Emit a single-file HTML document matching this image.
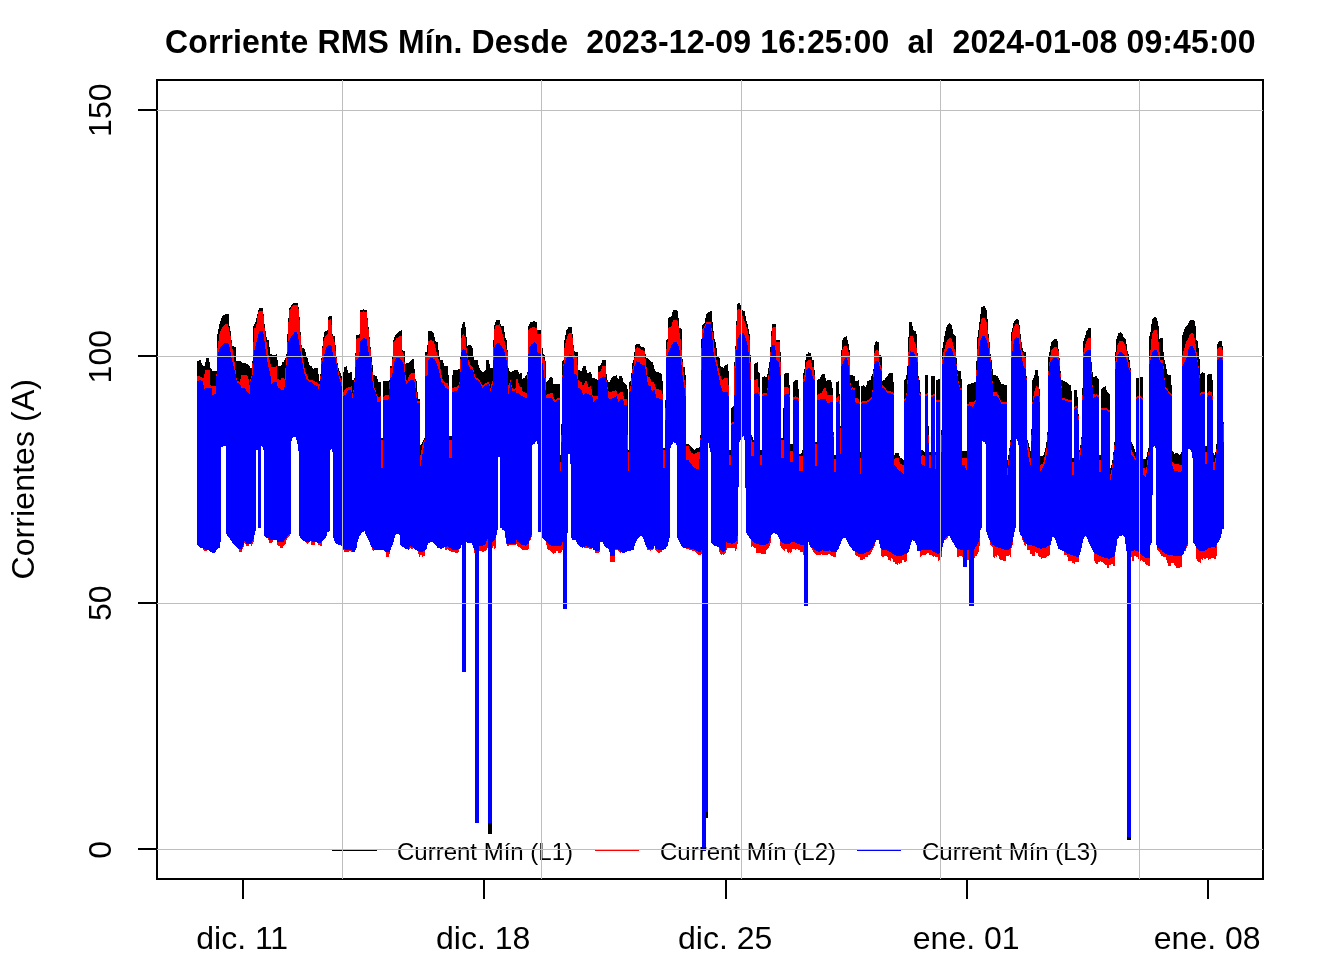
<!DOCTYPE html><html><head><meta charset="utf-8"><title>Corriente RMS Mín.</title>
<style>html,body{margin:0;padding:0;background:#fff}svg{display:block}text{font-family:"Liberation Sans",Arial,sans-serif;fill:#000}</style></head><body>
<svg width="1344" height="960" viewBox="0 0 1344 960">
<rect width="1344" height="960" fill="#fff"/>
<g id="series" shape-rendering="crispEdges">
<path fill="#000" d="M197 361h1v184h-1zM198 361h1v185h-1zM199 360h1v187h-1zM200 360h1v188h-1zM201 363h1v185h-1zM202 365h1v183h-1zM203 366h1v184h-1zM204 366h1v185h-1zM205 362h1v189h-1zM206 358h1v193h-1zM207 358h2v192h-2zM209 362h1v189h-1zM210 368h1v184h-1zM211 369h1v183h-1zM212 371h3v182h-3zM215 371h1v181h-1zM216 371h1v179h-1zM217 334h1v215h-1zM218 329h1v219h-1zM219 324h1v224h-1zM220 321h1v221h-1zM221 318h1v129h-1zM222 316h1v131h-1zM223 315h2v131h-2zM225 314h1v132h-1zM226 314h1v220h-1zM227 314h1v222h-1zM228 314h1v223h-1zM229 326h1v212h-1zM230 331h1v209h-1zM231 340h1v201h-1zM232 346h1v197h-1zM233 346h1v198h-1zM234 347h1v198h-1zM235 347h1v199h-1zM236 361h1v186h-1zM237 361h1v187h-1zM238 361h1v188h-1zM239 361h2v191h-2zM241 362h1v190h-1zM242 363h1v186h-1zM243 363h1v184h-1zM244 363h1v180h-1zM245 363h1v181h-1zM246 364h2v182h-2zM248 365h1v181h-1zM249 366h1v178h-1zM250 368h1v176h-1zM251 368h1v178h-1zM252 361h1v183h-1zM253 326h1v216h-1zM254 324h1v211h-1zM255 322h1v209h-1zM256 318h1v132h-1zM257 314h1v136h-1zM258 310h1v218h-1zM259 308h2v220h-2zM261 308h1v138h-1zM262 308h1v139h-1zM263 314h1v136h-1zM264 324h1v212h-1zM265 331h1v206h-1zM266 337h1v201h-1zM267 340h1v198h-1zM268 340h1v200h-1zM269 347h1v196h-1zM270 354h2v189h-2zM272 355h1v187h-1zM273 355h3v185h-3zM276 354h1v186h-1zM277 360h1v185h-1zM278 366h2v180h-2zM280 366h1v182h-1zM281 365h1v183h-1zM282 362h1v186h-1zM283 362h1v184h-1zM284 360h1v185h-1zM285 358h1v186h-1zM286 354h1v186h-1zM287 334h1v204h-1zM288 318h1v219h-1zM289 308h1v228h-1zM290 307h1v227h-1zM291 305h1v136h-1zM292 304h1v134h-1zM293 303h3v134h-3zM296 303h1v137h-1zM297 303h1v141h-1zM298 307h1v144h-1zM299 317h1v219h-1zM300 332h1v206h-1zM301 345h1v194h-1zM302 348h1v192h-1zM303 348h1v193h-1zM304 349h1v192h-1zM305 352h1v190h-1zM306 357h1v186h-1zM307 358h1v186h-1zM308 362h1v181h-1zM309 365h1v177h-1zM310 366h1v175h-1zM311 366h1v179h-1zM312 368h1v177h-1zM313 369h1v176h-1zM314 368h1v177h-1zM315 368h2v174h-2zM317 368h1v175h-1zM318 374h1v171h-1zM319 381h1v164h-1zM320 374h1v172h-1zM321 358h1v188h-1zM322 346h1v195h-1zM323 337h1v203h-1zM324 332h1v207h-1zM325 331h1v207h-1zM326 331h1v205h-1zM327 330h1v202h-1zM328 317h1v215h-1zM329 316h1v215h-1zM330 316h1v134h-1zM331 316h1v133h-1zM332 334h1v118h-1zM333 336h1v202h-1zM334 336h1v205h-1zM335 345h1v198h-1zM336 356h1v188h-1zM337 363h1v181h-1zM338 368h1v177h-1zM339 371h1v174h-1zM340 373h1v172h-1zM341 376h1v170h-1zM342 380h1v168h-1zM343 372h1v178h-1zM344 367h2v185h-2zM346 366h1v186h-1zM347 370h1v182h-1zM348 373h1v179h-1zM349 373h1v178h-1zM350 372h1v179h-1zM351 372h1v180h-1zM352 380h2v172h-2zM354 378h1v174h-1zM355 353h1v197h-1zM356 335h1v213h-1zM357 335h1v207h-1zM358 335h1v204h-1zM359 334h1v202h-1zM360 310h1v225h-1zM361 310h1v223h-1zM362 310h1v222h-1zM363 309h1v223h-1zM364 310h1v221h-1zM365 310h1v224h-1zM366 310h1v226h-1zM367 318h1v220h-1zM368 327h1v213h-1zM369 337h1v205h-1zM370 347h1v198h-1zM371 356h1v191h-1zM372 365h1v185h-1zM373 375h1v176h-1zM374 375h1v175h-1zM375 376h2v174h-2zM377 379h1v171h-1zM378 382h3v168h-3zM381 438h2v112h-2zM383 381h1v169h-1zM384 381h1v170h-1zM385 381h1v171h-1zM386 381h3v176h-3zM389 380h1v174h-1zM390 366h1v184h-1zM391 366h1v181h-1zM392 357h1v188h-1zM393 340h1v202h-1zM394 337h1v201h-1zM395 335h1v200h-1zM396 334h1v200h-1zM397 333h1v201h-1zM398 332h1v202h-1zM399 331h1v204h-1zM400 331h1v214h-1zM401 330h1v216h-1zM402 350h1v197h-1zM403 351h1v196h-1zM404 351h1v197h-1zM405 364h1v185h-1zM406 363h2v186h-2zM408 363h1v187h-1zM409 362h1v187h-1zM410 361h1v187h-1zM411 360h1v189h-1zM412 359h1v190h-1zM413 359h1v189h-1zM414 369h1v180h-1zM415 379h1v171h-1zM416 381h1v169h-1zM417 392h1v159h-1zM418 399h1v155h-1zM419 399h1v158h-1zM420 445h1v110h-1zM421 444h1v111h-1zM422 442h1v115h-1zM423 440h1v116h-1zM424 438h1v118h-1zM425 352h1v198h-1zM426 352h1v197h-1zM427 345h1v200h-1zM428 331h2v212h-2zM430 331h2v211h-2zM432 332h1v210h-1zM433 333h1v210h-1zM434 337h1v207h-1zM435 341h1v204h-1zM436 342h1v204h-1zM437 342h1v206h-1zM438 350h1v198h-1zM439 356h1v192h-1zM440 360h2v189h-2zM442 360h1v188h-1zM443 363h1v185h-1zM444 366h1v181h-1zM445 366h2v184h-2zM447 366h1v183h-1zM448 375h1v175h-1zM449 436h2v115h-2zM451 436h1v116h-1zM452 375h1v177h-1zM453 370h2v182h-2zM455 370h3v183h-3zM458 369h1v183h-1zM459 369h1v180h-1zM460 357h1v191h-1zM461 328h1v217h-1zM462 324h1v218h-1zM463 322h2v220h-2zM465 327h1v215h-1zM466 337h1v205h-1zM467 346h1v197h-1zM468 345h3v198h-3zM471 346h1v197h-1zM472 348h1v197h-1zM473 356h1v192h-1zM474 360h2v193h-2zM476 360h1v192h-1zM477 360h1v191h-1zM478 365h1v187h-1zM479 368h1v183h-1zM480 370h1v181h-1zM481 371h1v180h-1zM482 372h2v180h-2zM484 371h1v180h-1zM485 370h1v181h-1zM486 360h1v190h-1zM487 360h1v188h-1zM488 360h1v187h-1zM489 364h1v184h-1zM490 368h1v182h-1zM491 368h1v183h-1zM492 368h1v180h-1zM493 340h1v206h-1zM494 325h1v224h-1zM495 322h1v226h-1zM496 320h1v215h-1zM497 320h1v210h-1zM498 320h2v137h-2zM500 324h1v204h-1zM501 326h1v202h-1zM502 326h2v204h-2zM504 332h1v199h-1zM505 338h1v200h-1zM506 340h1v204h-1zM507 350h1v196h-1zM508 368h1v178h-1zM509 371h1v174h-1zM510 372h2v173h-2zM512 371h2v174h-2zM514 370h2v175h-2zM516 370h1v174h-1zM517 370h1v176h-1zM518 372h1v175h-1zM519 374h1v173h-1zM520 373h1v175h-1zM521 373h1v176h-1zM522 379h1v171h-1zM523 378h2v172h-2zM525 376h1v174h-1zM526 375h1v175h-1zM527 372h1v178h-1zM528 326h1v223h-1zM529 324h1v217h-1zM530 322h1v218h-1zM531 322h1v215h-1zM532 322h1v123h-1zM533 321h2v123h-2zM535 322h1v120h-1zM536 322h1v119h-1zM537 330h1v114h-1zM538 330h3v202h-3zM541 336h1v200h-1zM542 348h1v190h-1zM543 354h1v185h-1zM544 355h1v185h-1zM545 361h1v180h-1zM546 382h1v163h-1zM547 381h1v168h-1zM548 380h1v170h-1zM549 378h1v172h-1zM550 377h1v174h-1zM551 377h1v175h-1zM552 378h1v175h-1zM553 384h1v170h-1zM554 384h2v169h-2zM556 384h2v167h-2zM558 384h2v169h-2zM560 455h1v98h-1zM561 424h1v128h-1zM562 361h1v189h-1zM563 360h1v179h-1zM564 340h1v198h-1zM565 335h1v201h-1zM566 330h1v205h-1zM567 329h1v204h-1zM568 327h2v127h-2zM570 327h1v137h-1zM571 327h1v211h-1zM572 334h1v206h-1zM573 345h1v195h-1zM574 351h1v189h-1zM575 352h1v188h-1zM576 352h1v190h-1zM577 352h1v192h-1zM578 370h1v175h-1zM579 370h1v176h-1zM580 371h2v176h-2zM582 368h1v180h-1zM583 366h1v181h-1zM584 366h2v182h-2zM586 370h1v178h-1zM587 373h2v175h-2zM589 372h2v177h-2zM591 374h1v175h-1zM592 378h1v170h-1zM593 378h2v172h-2zM595 379h2v174h-2zM597 380h1v173h-1zM598 366h1v187h-1zM599 366h1v186h-1zM600 365h1v177h-1zM601 363h1v179h-1zM602 360h1v182h-1zM603 360h1v184h-1zM604 360h1v186h-1zM605 360h1v187h-1zM606 374h1v174h-1zM607 380h1v168h-1zM608 382h1v167h-1zM609 382h1v170h-1zM610 380h1v182h-1zM611 378h1v184h-1zM612 377h1v185h-1zM613 376h2v186h-2zM615 376h1v174h-1zM616 375h1v175h-1zM617 378h1v172h-1zM618 379h1v172h-1zM619 376h1v176h-1zM620 376h1v177h-1zM621 376h1v176h-1zM622 378h1v175h-1zM623 382h1v171h-1zM624 383h1v170h-1zM625 384h1v168h-1zM626 385h1v167h-1zM627 389h1v162h-1zM628 450h1v101h-1zM629 382h1v169h-1zM630 381h1v170h-1zM631 373h1v177h-1zM632 363h1v187h-1zM633 360h1v190h-1zM634 352h1v194h-1zM635 345h1v198h-1zM636 344h1v197h-1zM637 344h1v195h-1zM638 344h1v194h-1zM639 344h1v193h-1zM640 346h1v190h-1zM641 347h1v189h-1zM642 347h1v190h-1zM643 347h1v192h-1zM644 348h1v194h-1zM645 354h1v191h-1zM646 358h1v189h-1zM647 358h1v192h-1zM648 359h1v191h-1zM649 360h1v190h-1zM650 361h1v190h-1zM651 362h2v188h-2zM653 365h1v184h-1zM654 369h1v177h-1zM655 371h1v179h-1zM656 372h1v179h-1zM657 372h1v180h-1zM658 372h1v181h-1zM659 373h1v180h-1zM660 373h1v179h-1zM661 374h1v178h-1zM662 381h1v169h-1zM663 448h1v102h-1zM664 448h1v101h-1zM665 400h1v149h-1zM666 340h1v207h-1zM667 339h1v207h-1zM668 318h1v224h-1zM669 317h1v221h-1zM670 317h1v131h-1zM671 316h1v129h-1zM672 312h1v132h-1zM673 310h1v132h-1zM674 310h2v133h-2zM676 310h1v135h-1zM677 311h1v227h-1zM678 318h1v222h-1zM679 328h1v214h-1zM680 328h1v216h-1zM681 329h1v217h-1zM682 359h1v188h-1zM683 367h2v181h-2zM685 375h1v173h-1zM686 444h3v105h-3zM689 445h1v105h-1zM690 446h1v104h-1zM691 447h1v103h-1zM692 448h1v103h-1zM693 449h1v102h-1zM694 450h1v101h-1zM695 449h1v103h-1zM696 448h1v105h-1zM697 448h1v106h-1zM698 448h1v107h-1zM699 447h1v108h-1zM700 435h1v120h-1zM701 339h1v215h-1zM702 325h1v226h-1zM703 324h1v227h-1zM704 323h1v228h-1zM705 318h1v233h-1zM706 314h1v237h-1zM707 313h1v238h-1zM708 312h1v131h-1zM709 312h1v136h-1zM710 311h1v141h-1zM711 311h1v232h-1zM712 322h1v222h-1zM713 331h1v214h-1zM714 339h1v207h-1zM715 342h1v204h-1zM716 348h1v198h-1zM717 356h1v191h-1zM718 357h1v190h-1zM719 358h1v194h-1zM720 366h1v188h-1zM721 367h1v188h-1zM722 367h1v187h-1zM723 368h1v187h-1zM724 366h1v188h-1zM725 365h1v188h-1zM726 365h1v185h-1zM727 364h1v184h-1zM728 371h1v177h-1zM729 450h2v98h-2zM731 408h1v140h-1zM732 407h1v141h-1zM733 406h1v142h-1zM734 362h1v186h-1zM735 346h1v205h-1zM736 321h1v228h-1zM737 304h1v240h-1zM738 303h1v184h-1zM739 303h1v139h-1zM740 305h1v135h-1zM741 310h1v128h-1zM742 310h1v127h-1zM743 311h1v125h-1zM744 311h1v129h-1zM745 316h1v172h-1zM746 321h1v212h-1zM747 324h1v211h-1zM748 329h1v207h-1zM749 334h1v204h-1zM750 355h1v184h-1zM751 435h1v112h-1zM752 437h1v109h-1zM753 440h1v107h-1zM754 364h1v184h-1zM755 363h1v185h-1zM756 363h1v190h-1zM757 362h1v191h-1zM758 372h1v181h-1zM759 373h1v180h-1zM760 450h1v103h-1zM761 450h1v104h-1zM762 377h2v177h-2zM764 376h1v178h-1zM765 377h1v177h-1zM766 377h1v173h-1zM767 374h1v175h-1zM768 368h1v180h-1zM769 362h1v184h-1zM770 347h1v196h-1zM771 331h1v204h-1zM772 324h1v210h-1zM773 324h2v209h-2zM775 324h1v210h-1zM776 340h1v194h-1zM777 340h1v195h-1zM778 340h1v197h-1zM779 340h1v199h-1zM780 352h1v194h-1zM781 438h1v110h-1zM782 438h1v111h-1zM783 408h1v142h-1zM784 374h1v177h-1zM785 373h2v176h-2zM787 373h1v179h-1zM788 373h1v180h-1zM789 385h1v167h-1zM790 444h1v109h-1zM791 444h1v108h-1zM792 444h1v105h-1zM793 382h1v167h-1zM794 381h1v168h-1zM795 380h1v170h-1zM796 380h2v169h-2zM798 389h1v161h-1zM799 454h1v96h-1zM800 454h1v98h-1zM801 453h1v99h-1zM802 450h1v102h-1zM803 373h1v182h-1zM804 369h1v175h-1zM805 360h1v184h-1zM806 354h2v189h-2zM808 352h1v190h-1zM809 353h1v192h-1zM810 353h1v194h-1zM811 356h1v192h-1zM812 360h1v190h-1zM813 360h1v192h-1zM814 370h1v183h-1zM815 442h1v112h-1zM816 442h1v113h-1zM817 380h1v175h-1zM818 379h2v176h-2zM820 377h1v178h-1zM821 375h1v179h-1zM822 374h3v181h-3zM825 378h1v177h-1zM826 381h1v174h-1zM827 380h1v175h-1zM828 380h2v174h-2zM830 380h1v175h-1zM831 382h1v174h-1zM832 388h1v168h-1zM833 432h1v125h-1zM834 455h2v102h-2zM836 382h1v170h-1zM837 382h1v168h-1zM838 381h1v168h-1zM839 394h1v152h-1zM840 426h1v118h-1zM841 350h1v191h-1zM842 340h1v199h-1zM843 338h1v200h-1zM844 337h2v201h-2zM846 336h1v204h-1zM847 340h1v202h-1zM848 344h1v200h-1zM849 350h1v196h-1zM850 375h1v172h-1zM851 375h1v173h-1zM852 375h1v175h-1zM853 376h2v175h-2zM855 381h1v174h-1zM856 381h2v175h-2zM858 380h1v177h-1zM859 386h1v171h-1zM860 452h1v108h-1zM861 386h2v174h-2zM863 385h1v174h-1zM864 386h1v173h-1zM865 387h1v170h-1zM866 385h1v172h-1zM867 381h1v176h-1zM868 381h1v174h-1zM869 380h1v175h-1zM870 380h1v174h-1zM871 376h1v176h-1zM872 374h1v176h-1zM873 369h1v179h-1zM874 345h1v201h-1zM875 342h1v200h-1zM876 341h1v199h-1zM877 342h2v198h-2zM879 355h1v189h-1zM880 355h1v193h-1zM881 356h1v200h-1zM882 381h1v176h-1zM883 380h1v177h-1zM884 380h1v176h-1zM885 378h1v178h-1zM886 377h1v179h-1zM887 376h1v181h-1zM888 374h1v186h-1zM889 373h1v187h-1zM890 373h1v188h-1zM891 373h1v185h-1zM892 373h1v186h-1zM893 382h1v180h-1zM894 455h1v107h-1zM895 453h2v111h-2zM897 453h1v112h-1zM898 453h1v110h-1zM899 456h1v108h-1zM900 458h2v105h-2zM902 459h1v101h-1zM903 460h1v100h-1zM904 380h1v182h-1zM905 379h1v183h-1zM906 375h1v186h-1zM907 366h1v187h-1zM908 337h1v215h-1zM909 322h1v227h-1zM910 322h1v223h-1zM911 322h1v220h-1zM912 326h1v214h-1zM913 330h1v211h-1zM914 331h1v210h-1zM915 331h1v212h-1zM916 334h1v211h-1zM917 353h1v198h-1zM918 376h1v175h-1zM919 380h1v171h-1zM920 392h1v165h-1zM921 450h1v106h-1zM922 450h1v105h-1zM923 451h1v104h-1zM924 452h1v103h-1zM925 375h1v180h-1zM926 375h1v179h-1zM927 375h1v178h-1zM928 426h1v127h-1zM929 452h2v103h-2zM931 376h1v179h-1zM932 376h1v180h-1zM933 376h1v181h-1zM934 376h1v180h-1zM935 452h1v105h-1zM936 380h2v177h-2zM938 379h1v182h-1zM939 379h1v181h-1zM940 430h1v130h-1zM941 430h1v127h-1zM942 348h1v199h-1zM943 342h1v201h-1zM944 336h1v204h-1zM945 331h1v209h-1zM946 327h1v212h-1zM947 325h1v213h-1zM948 324h1v212h-1zM949 323h1v213h-1zM950 324h1v214h-1zM951 325h1v215h-1zM952 329h1v213h-1zM953 334h1v209h-1zM954 335h1v210h-1zM955 336h1v211h-1zM956 358h1v190h-1zM957 370h1v187h-1zM958 371h1v186h-1zM959 371h2v185h-2zM961 379h1v177h-1zM962 451h1v106h-1zM963 451h4v109h-4zM967 385h1v175h-1zM968 384h2v176h-2zM970 384h1v173h-1zM971 383h2v174h-2zM973 383h1v175h-1zM974 382h1v176h-1zM975 382h1v174h-1zM976 361h1v195h-1zM977 337h1v217h-1zM978 330h1v222h-1zM979 322h1v224h-1zM980 314h1v216h-1zM981 307h1v221h-1zM982 307h1v134h-1zM983 306h2v136h-2zM985 308h1v136h-1zM986 310h1v222h-1zM987 319h1v216h-1zM988 334h1v204h-1zM989 342h1v198h-1zM990 354h1v191h-1zM991 360h1v186h-1zM992 369h1v178h-1zM993 375h1v182h-1zM994 375h1v183h-1zM995 375h1v181h-1zM996 376h1v181h-1zM997 376h1v179h-1zM998 378h1v178h-1zM999 380h1v179h-1zM1000 382h1v178h-1zM1001 384h2v176h-2zM1003 384h1v177h-1zM1004 385h2v176h-2zM1006 385h1v171h-1zM1007 460h1v96h-1zM1008 455h1v101h-1zM1009 448h1v107h-1zM1010 440h1v117h-1zM1011 332h1v216h-1zM1012 328h1v217h-1zM1013 323h1v214h-1zM1014 321h1v211h-1zM1015 320h1v208h-1zM1016 319h1v120h-1zM1017 319h1v122h-1zM1018 320h1v125h-1zM1019 325h1v207h-1zM1020 334h1v201h-1zM1021 342h1v194h-1zM1022 348h1v192h-1zM1023 351h1v191h-1zM1024 352h1v193h-1zM1025 352h1v194h-1zM1026 376h1v168h-1zM1027 440h1v110h-1zM1028 443h1v107h-1zM1029 447h1v103h-1zM1030 451h1v103h-1zM1031 429h1v125h-1zM1032 380h1v176h-1zM1033 378h1v178h-1zM1034 375h1v181h-1zM1035 370h1v182h-1zM1036 370h2v183h-2zM1038 376h1v180h-1zM1039 389h1v168h-1zM1040 456h1v101h-1zM1041 456h1v103h-1zM1042 456h1v102h-1zM1043 455h1v103h-1zM1044 452h1v106h-1zM1045 448h1v110h-1zM1046 442h1v115h-1zM1047 432h1v124h-1zM1048 356h1v200h-1zM1049 352h1v203h-1zM1050 346h1v199h-1zM1051 342h1v199h-1zM1052 341h1v196h-1zM1053 340h1v197h-1zM1054 339h1v199h-1zM1055 339h1v201h-1zM1056 339h1v204h-1zM1057 341h1v205h-1zM1058 349h1v200h-1zM1059 358h1v191h-1zM1060 371h1v179h-1zM1061 380h1v170h-1zM1062 380h1v171h-1zM1063 381h1v170h-1zM1064 381h1v174h-1zM1065 382h2v173h-2zM1067 383h1v174h-1zM1068 384h1v177h-1zM1069 385h2v176h-2zM1071 391h1v170h-1zM1072 458h2v105h-2zM1074 390h1v174h-1zM1075 390h2v172h-2zM1077 397h1v165h-1zM1078 414h1v148h-1zM1079 450h1v105h-1zM1080 445h1v107h-1zM1081 437h1v111h-1zM1082 388h1v155h-1zM1083 341h1v198h-1zM1084 338h1v199h-1zM1085 335h1v201h-1zM1086 331h1v206h-1zM1087 330h1v209h-1zM1088 328h1v214h-1zM1089 328h1v216h-1zM1090 328h1v218h-1zM1091 362h1v186h-1zM1092 372h1v178h-1zM1093 377h1v175h-1zM1094 377h1v184h-1zM1095 376h1v187h-1zM1096 376h1v188h-1zM1097 378h1v186h-1zM1098 379h1v183h-1zM1099 455h1v107h-1zM1100 455h1v106h-1zM1101 389h1v173h-1zM1102 388h1v174h-1zM1103 387h1v176h-1zM1104 387h1v177h-1zM1105 386h1v179h-1zM1106 390h1v175h-1zM1107 392h1v176h-1zM1108 393h1v175h-1zM1109 394h1v171h-1zM1110 468h1v97h-1zM1111 465h1v99h-1zM1112 460h1v104h-1zM1113 452h1v114h-1zM1114 442h1v124h-1zM1115 352h1v200h-1zM1116 339h1v207h-1zM1117 336h1v203h-1zM1118 333h1v205h-1zM1119 333h1v203h-1zM1120 332h1v204h-1zM1121 333h1v203h-1zM1122 334h1v201h-1zM1123 337h1v199h-1zM1124 338h1v199h-1zM1125 339h1v205h-1zM1126 344h1v207h-1zM1127 351h1v201h-1zM1128 354h1v198h-1zM1129 360h1v192h-1zM1130 368h1v183h-1zM1131 442h1v115h-1zM1132 444h1v117h-1zM1133 446h1v115h-1zM1134 449h1v107h-1zM1135 452h1v104h-1zM1136 378h2v179h-2zM1138 378h1v181h-1zM1139 378h1v182h-1zM1140 377h1v184h-1zM1141 377h1v183h-1zM1142 377h1v184h-1zM1143 459h2v103h-2zM1145 459h1v105h-1zM1146 457h1v108h-1zM1147 452h1v113h-1zM1148 448h1v118h-1zM1149 336h1v230h-1zM1150 332h1v213h-1zM1151 324h1v219h-1zM1152 319h1v176h-1zM1153 318h1v129h-1zM1154 317h1v129h-1zM1155 317h1v131h-1zM1156 318h1v227h-1zM1157 321h1v229h-1zM1158 326h1v225h-1zM1159 339h1v213h-1zM1160 338h1v216h-1zM1161 338h2v218h-2zM1163 352h1v205h-1zM1164 360h1v197h-1zM1165 364h1v193h-1zM1166 369h1v191h-1zM1167 374h1v189h-1zM1168 375h3v191h-3zM1171 385h1v178h-1zM1172 451h1v112h-1zM1173 452h1v111h-1zM1174 454h1v111h-1zM1175 453h1v113h-1zM1176 453h2v115h-2zM1178 454h1v114h-1zM1179 455h1v113h-1zM1180 454h1v113h-1zM1181 452h1v115h-1zM1182 335h1v220h-1zM1183 332h1v222h-1zM1184 329h1v222h-1zM1185 327h1v224h-1zM1186 326h1v222h-1zM1187 325h1v221h-1zM1188 323h1v126h-1zM1189 321h1v128h-1zM1190 320h1v130h-1zM1191 320h1v132h-1zM1192 320h1v138h-1zM1193 320h1v223h-1zM1194 321h1v223h-1zM1195 326h1v220h-1zM1196 340h1v219h-1zM1197 341h1v220h-1zM1198 348h1v214h-1zM1199 359h1v203h-1zM1200 374h1v189h-1zM1201 373h1v186h-1zM1202 372h1v188h-1zM1203 373h1v185h-1zM1204 373h1v186h-1zM1205 446h1v113h-1zM1206 446h1v112h-1zM1207 375h1v183h-1zM1208 374h1v186h-1zM1209 374h2v185h-2zM1211 374h1v184h-1zM1212 380h1v178h-1zM1213 453h1v105h-1zM1214 455h1v104h-1zM1215 452h1v107h-1zM1216 444h1v112h-1zM1217 344h1v199h-1zM1218 342h1v200h-1zM1219 341h1v199h-1zM1220 341h1v197h-1zM1221 341h1v193h-1zM1222 346h1v183h-1zM1223 422h1v107h-1z"/>
<path fill="#f00" d="M197 376h1v169h-1zM198 376h1v170h-1zM199 376h1v171h-1zM200 377h2v171h-2zM202 378h1v170h-1zM203 378h1v172h-1zM204 374h1v177h-1zM205 370h2v181h-2zM207 370h2v180h-2zM209 370h1v181h-1zM210 385h1v167h-1zM211 386h1v166h-1zM212 386h3v167h-3zM215 386h1v166h-1zM216 374h1v176h-1zM217 348h1v201h-1zM218 341h1v207h-1zM219 334h1v214h-1zM220 331h1v211h-1zM221 329h1v118h-1zM222 327h1v120h-1zM223 326h1v120h-1zM224 325h1v121h-1zM225 324h1v122h-1zM226 324h1v210h-1zM227 324h1v212h-1zM228 327h1v210h-1zM229 332h1v206h-1zM230 336h1v204h-1zM231 343h1v198h-1zM232 349h1v194h-1zM233 355h1v189h-1zM234 362h1v183h-1zM235 370h1v176h-1zM236 378h1v169h-1zM237 381h1v167h-1zM238 381h1v168h-1zM239 382h1v170h-1zM240 379h1v173h-1zM241 375h1v177h-1zM242 375h1v174h-1zM243 375h1v172h-1zM244 375h1v168h-1zM245 375h1v169h-1zM246 375h1v171h-1zM247 376h1v170h-1zM248 379h1v167h-1zM249 385h1v159h-1zM250 379h1v165h-1zM251 376h1v170h-1zM252 363h1v181h-1zM253 342h1v200h-1zM254 328h1v207h-1zM255 328h1v203h-1zM256 324h1v126h-1zM257 316h1v134h-1zM258 312h1v216h-1zM259 311h2v217h-2zM261 311h1v135h-1zM262 311h1v136h-1zM263 316h1v134h-1zM264 328h1v208h-1zM265 337h1v200h-1zM266 342h1v196h-1zM267 349h1v189h-1zM268 355h1v185h-1zM269 360h1v183h-1zM270 364h1v179h-1zM271 367h1v176h-1zM272 367h1v175h-1zM273 367h3v173h-3zM276 366h1v174h-1zM277 379h1v166h-1zM278 379h1v167h-1zM279 380h1v166h-1zM280 380h1v168h-1zM281 378h2v170h-2zM283 378h1v168h-1zM284 379h1v166h-1zM285 368h1v176h-1zM286 356h1v184h-1zM287 342h1v196h-1zM288 322h1v215h-1zM289 310h1v226h-1zM290 309h1v225h-1zM291 307h1v134h-1zM292 306h1v132h-1zM293 305h3v132h-3zM296 305h1v135h-1zM297 305h1v139h-1zM298 309h1v142h-1zM299 320h1v216h-1zM300 335h1v203h-1zM301 347h1v192h-1zM302 355h1v185h-1zM303 362h1v179h-1zM304 368h1v173h-1zM305 372h1v170h-1zM306 374h1v169h-1zM307 376h1v168h-1zM308 379h1v164h-1zM309 380h1v162h-1zM310 380h1v161h-1zM311 380h2v165h-2zM313 381h2v164h-2zM315 382h2v160h-2zM317 383h1v160h-1zM318 384h2v161h-2zM320 376h1v170h-1zM321 360h1v186h-1zM322 348h1v193h-1zM323 341h1v199h-1zM324 338h1v201h-1zM325 336h1v202h-1zM326 335h1v201h-1zM327 334h1v198h-1zM328 320h1v212h-1zM329 320h1v211h-1zM330 319h1v131h-1zM331 325h1v124h-1zM332 336h1v116h-1zM333 339h1v199h-1zM334 342h1v199h-1zM335 351h1v192h-1zM336 358h1v186h-1zM337 365h1v179h-1zM338 371h1v174h-1zM339 376h1v169h-1zM340 378h1v167h-1zM341 380h1v166h-1zM342 388h1v160h-1zM343 392h1v158h-1zM344 390h1v162h-1zM345 389h1v163h-1zM346 388h2v164h-2zM348 387h1v165h-1zM349 387h2v164h-2zM351 386h1v166h-1zM352 393h1v159h-1zM353 390h1v162h-1zM354 380h1v172h-1zM355 355h1v195h-1zM356 339h1v209h-1zM357 338h1v204h-1zM358 338h1v201h-1zM359 338h1v198h-1zM360 312h1v223h-1zM361 312h1v221h-1zM362 312h1v220h-1zM363 311h1v221h-1zM364 312h1v219h-1zM365 312h1v222h-1zM366 312h1v224h-1zM367 320h1v218h-1zM368 329h1v211h-1zM369 339h1v203h-1zM370 349h1v196h-1zM371 362h1v185h-1zM372 372h1v178h-1zM373 381h1v170h-1zM374 388h1v162h-1zM375 390h1v160h-1zM376 394h1v156h-1zM377 396h1v154h-1zM378 397h2v153h-2zM380 396h1v154h-1zM381 440h2v110h-2zM383 397h1v153h-1zM384 396h1v155h-1zM385 395h1v157h-1zM386 395h3v162h-3zM389 382h1v172h-1zM390 368h1v182h-1zM391 368h1v179h-1zM392 359h1v186h-1zM393 342h1v200h-1zM394 341h1v197h-1zM395 340h1v195h-1zM396 338h2v196h-2zM398 337h1v197h-1zM399 336h1v199h-1zM400 336h1v209h-1zM401 336h1v210h-1zM402 352h1v195h-1zM403 354h1v193h-1zM404 362h1v186h-1zM405 375h1v174h-1zM406 380h1v169h-1zM407 381h1v168h-1zM408 377h1v173h-1zM409 375h1v174h-1zM410 374h1v174h-1zM411 373h2v176h-2zM413 373h1v175h-1zM414 373h1v176h-1zM415 381h1v169h-1zM416 392h1v158h-1zM417 401h1v150h-1zM418 401h1v153h-1zM419 401h1v156h-1zM420 455h1v100h-1zM421 450h1v105h-1zM422 445h1v112h-1zM423 442h1v114h-1zM424 440h1v116h-1zM425 355h1v195h-1zM426 355h1v194h-1zM427 354h1v191h-1zM428 341h2v202h-2zM430 340h2v202h-2zM432 341h1v201h-1zM433 341h1v202h-1zM434 344h1v200h-1zM435 348h1v197h-1zM436 352h1v194h-1zM437 355h1v193h-1zM438 359h1v189h-1zM439 362h1v186h-1zM440 369h1v180h-1zM441 375h1v174h-1zM442 379h1v169h-1zM443 381h1v167h-1zM444 382h1v165h-1zM445 383h2v167h-2zM447 383h1v166h-1zM448 386h1v164h-1zM449 440h2v111h-2zM451 440h1v112h-1zM452 388h2v164h-2zM454 387h1v165h-1zM455 387h2v166h-2zM457 386h1v167h-1zM458 385h1v167h-1zM459 382h1v167h-1zM460 359h1v189h-1zM461 338h1v207h-1zM462 335h1v207h-1zM463 334h1v208h-1zM464 336h1v206h-1zM465 338h1v204h-1zM466 348h1v194h-1zM467 355h1v188h-1zM468 360h1v183h-1zM469 362h1v181h-1zM470 365h1v178h-1zM471 366h1v177h-1zM472 367h1v178h-1zM473 370h1v178h-1zM474 374h1v179h-1zM475 377h1v176h-1zM476 378h1v174h-1zM477 378h1v173h-1zM478 379h1v173h-1zM479 380h1v171h-1zM480 382h1v169h-1zM481 384h1v167h-1zM482 385h2v167h-2zM484 384h1v167h-1zM485 383h1v168h-1zM486 383h1v167h-1zM487 382h1v166h-1zM488 382h1v165h-1zM489 384h1v164h-1zM490 388h1v162h-1zM491 384h1v167h-1zM492 381h1v167h-1zM493 347h1v199h-1zM494 329h1v220h-1zM495 326h1v222h-1zM496 325h1v210h-1zM497 325h1v205h-1zM498 325h1v132h-1zM499 324h1v133h-1zM500 327h1v201h-1zM501 330h1v198h-1zM502 334h1v196h-1zM503 337h1v193h-1zM504 341h1v190h-1zM505 345h1v193h-1zM506 349h1v195h-1zM507 352h1v194h-1zM508 385h1v161h-1zM509 383h1v162h-1zM510 380h1v165h-1zM511 385h1v160h-1zM512 388h1v157h-1zM513 389h2v156h-2zM515 388h1v157h-1zM516 379h1v165h-1zM517 379h1v167h-1zM518 383h1v164h-1zM519 386h1v161h-1zM520 387h1v161h-1zM521 387h1v162h-1zM522 391h1v159h-1zM523 392h2v158h-2zM525 393h2v157h-2zM527 374h1v176h-1zM528 330h1v219h-1zM529 329h1v212h-1zM530 328h1v212h-1zM531 328h1v209h-1zM532 327h1v118h-1zM533 327h2v117h-2zM535 328h1v114h-1zM536 328h1v113h-1zM537 334h1v110h-1zM538 334h3v198h-3zM541 346h1v190h-1zM542 355h1v183h-1zM543 358h1v181h-1zM544 360h1v180h-1zM545 378h1v163h-1zM546 395h1v150h-1zM547 394h1v155h-1zM548 394h2v156h-2zM550 393h1v158h-1zM551 393h1v159h-1zM552 393h1v160h-1zM553 397h1v157h-1zM554 399h1v154h-1zM555 400h1v153h-1zM556 399h1v152h-1zM557 398h1v153h-1zM558 398h2v155h-2zM560 462h1v91h-1zM561 435h1v117h-1zM562 375h1v175h-1zM563 364h1v175h-1zM564 348h1v190h-1zM565 343h1v193h-1zM566 339h1v196h-1zM567 336h1v197h-1zM568 334h1v120h-1zM569 333h1v121h-1zM570 333h1v131h-1zM571 333h1v205h-1zM572 338h1v202h-1zM573 348h1v192h-1zM574 355h1v185h-1zM575 356h1v184h-1zM576 357h1v185h-1zM577 365h1v179h-1zM578 380h1v165h-1zM579 381h1v165h-1zM580 382h2v165h-2zM582 385h1v163h-1zM583 385h1v162h-1zM584 383h1v165h-1zM585 381h2v167h-2zM587 384h1v164h-1zM588 387h1v161h-1zM589 387h1v162h-1zM590 386h1v163h-1zM591 389h1v160h-1zM592 395h1v153h-1zM593 396h2v154h-2zM595 396h3v157h-3zM598 372h1v181h-1zM599 372h1v180h-1zM600 371h1v171h-1zM601 369h1v173h-1zM602 366h1v176h-1zM603 366h1v178h-1zM604 366h1v180h-1zM605 366h1v181h-1zM606 380h1v168h-1zM607 387h1v161h-1zM608 391h1v158h-1zM609 392h1v160h-1zM610 392h2v170h-2zM612 391h3v171h-3zM615 390h1v160h-1zM616 391h1v159h-1zM617 394h1v156h-1zM618 394h1v157h-1zM619 393h1v159h-1zM620 392h1v161h-1zM621 392h1v160h-1zM622 392h1v161h-1zM623 396h1v157h-1zM624 399h1v154h-1zM625 399h2v153h-2zM627 435h1v116h-1zM628 452h1v99h-1zM629 389h1v162h-1zM630 386h1v165h-1zM631 378h1v172h-1zM632 369h1v181h-1zM633 366h1v184h-1zM634 358h1v188h-1zM635 349h1v194h-1zM636 348h1v193h-1zM637 347h1v192h-1zM638 348h1v190h-1zM639 348h1v189h-1zM640 349h1v187h-1zM641 350h1v186h-1zM642 350h1v187h-1zM643 351h1v188h-1zM644 351h1v191h-1zM645 359h1v186h-1zM646 367h1v180h-1zM647 376h1v174h-1zM648 377h2v173h-2zM650 379h1v172h-1zM651 382h2v168h-2zM653 382h1v167h-1zM654 384h1v162h-1zM655 387h1v163h-1zM656 389h1v162h-1zM657 389h1v163h-1zM658 389h1v164h-1zM659 390h1v163h-1zM660 390h1v162h-1zM661 391h1v161h-1zM662 394h1v156h-1zM663 450h1v100h-1zM664 450h1v99h-1zM665 408h1v141h-1zM666 349h1v198h-1zM667 342h1v204h-1zM668 328h1v214h-1zM669 327h1v211h-1zM670 327h1v121h-1zM671 326h1v119h-1zM672 322h1v122h-1zM673 320h1v122h-1zM674 320h2v123h-2zM676 320h1v125h-1zM677 321h1v217h-1zM678 326h1v214h-1zM679 333h1v209h-1zM680 339h1v205h-1zM681 350h1v196h-1zM682 362h1v185h-1zM683 372h1v176h-1zM684 380h1v168h-1zM685 385h1v163h-1zM686 446h3v103h-3zM689 449h1v101h-1zM690 451h1v99h-1zM691 453h1v97h-1zM692 453h1v98h-1zM693 454h2v97h-2zM695 453h1v99h-1zM696 453h1v100h-1zM697 452h1v102h-1zM698 452h2v103h-2zM700 438h1v117h-1zM701 348h1v206h-1zM702 329h1v222h-1zM703 328h1v223h-1zM704 326h1v225h-1zM705 324h1v227h-1zM706 322h2v229h-2zM708 322h1v121h-1zM709 322h1v126h-1zM710 322h1v130h-1zM711 328h1v215h-1zM712 332h1v212h-1zM713 340h1v205h-1zM714 348h1v198h-1zM715 355h1v191h-1zM716 360h1v186h-1zM717 364h1v183h-1zM718 368h1v179h-1zM719 373h1v179h-1zM720 376h1v178h-1zM721 379h1v176h-1zM722 380h1v174h-1zM723 379h1v176h-1zM724 378h1v176h-1zM725 378h1v175h-1zM726 378h1v172h-1zM727 378h1v170h-1zM728 385h1v163h-1zM729 455h2v93h-2zM731 423h1v125h-1zM732 422h2v126h-2zM734 366h1v182h-1zM735 349h1v202h-1zM736 325h1v224h-1zM737 310h1v234h-1zM738 309h1v178h-1zM739 309h1v133h-1zM740 310h1v130h-1zM741 314h1v124h-1zM742 316h1v121h-1zM743 319h1v117h-1zM744 321h1v119h-1zM745 324h1v164h-1zM746 327h1v206h-1zM747 331h1v204h-1zM748 335h1v201h-1zM749 340h1v198h-1zM750 362h1v177h-1zM751 440h1v107h-1zM752 442h1v104h-1zM753 442h1v105h-1zM754 380h2v168h-2zM756 379h2v174h-2zM758 387h1v166h-1zM759 392h1v161h-1zM760 455h1v98h-1zM761 455h1v99h-1zM762 394h1v160h-1zM763 393h3v161h-3zM766 393h1v157h-1zM767 388h1v161h-1zM768 375h1v173h-1zM769 368h1v178h-1zM770 352h1v191h-1zM771 336h1v199h-1zM772 328h1v206h-1zM773 327h2v206h-2zM775 327h1v207h-1zM776 342h1v192h-1zM777 342h1v193h-1zM778 342h1v195h-1zM779 342h1v197h-1zM780 362h1v184h-1zM781 440h1v108h-1zM782 440h1v109h-1zM783 440h1v110h-1zM784 387h1v164h-1zM785 387h2v162h-2zM787 387h1v165h-1zM788 388h1v165h-1zM789 395h1v157h-1zM790 451h1v102h-1zM791 451h1v101h-1zM792 451h1v98h-1zM793 397h2v152h-2zM795 396h1v154h-1zM796 397h2v152h-2zM798 398h1v152h-1zM799 456h1v94h-1zM800 456h3v96h-3zM803 379h1v176h-1zM804 375h1v169h-1zM805 367h1v177h-1zM806 362h1v181h-1zM807 361h1v182h-1zM808 360h1v182h-1zM809 360h1v185h-1zM810 360h1v187h-1zM811 363h1v185h-1zM812 367h1v183h-1zM813 367h1v185h-1zM814 375h1v178h-1zM815 444h1v110h-1zM816 444h1v111h-1zM817 395h1v160h-1zM818 394h2v161h-2zM820 393h1v162h-1zM821 393h1v161h-1zM822 391h1v164h-1zM823 389h1v166h-1zM824 388h2v167h-2zM826 391h1v164h-1zM827 395h1v160h-1zM828 395h2v159h-2zM830 395h1v160h-1zM831 395h2v161h-2zM833 435h1v122h-1zM834 459h2v98h-2zM836 398h1v154h-1zM837 397h1v153h-1zM838 396h1v153h-1zM839 400h1v146h-1zM840 428h1v116h-1zM841 356h1v185h-1zM842 349h1v190h-1zM843 347h1v191h-1zM844 346h2v192h-2zM846 346h1v194h-1zM847 348h1v194h-1zM848 352h1v192h-1zM849 355h1v191h-1zM850 383h1v164h-1zM851 388h1v160h-1zM852 387h1v163h-1zM853 388h2v163h-2zM855 398h1v157h-1zM856 398h2v158h-2zM858 399h1v158h-1zM859 402h1v155h-1zM860 458h1v102h-1zM861 402h1v158h-1zM862 401h1v159h-1zM863 401h2v158h-2zM865 401h2v156h-2zM867 400h1v157h-1zM868 400h1v155h-1zM869 399h1v156h-1zM870 398h1v156h-1zM871 397h1v155h-1zM872 390h1v160h-1zM873 371h1v177h-1zM874 353h1v193h-1zM875 351h1v191h-1zM876 350h2v190h-2zM878 351h1v189h-1zM879 362h1v182h-1zM880 365h1v183h-1zM881 368h1v188h-1zM882 385h1v172h-1zM883 386h1v171h-1zM884 387h1v169h-1zM885 388h1v168h-1zM886 390h1v166h-1zM887 391h1v166h-1zM888 391h2v169h-2zM890 391h1v170h-1zM891 392h1v166h-1zM892 392h1v167h-1zM893 393h1v169h-1zM894 459h1v103h-1zM895 458h2v106h-2zM897 458h1v107h-1zM898 458h1v105h-1zM899 462h1v102h-1zM900 464h2v99h-2zM902 465h2v95h-2zM904 399h1v163h-1zM905 398h1v164h-1zM906 393h1v168h-1zM907 380h1v173h-1zM908 352h1v200h-1zM909 338h1v211h-1zM910 336h1v209h-1zM911 336h1v206h-1zM912 336h1v204h-1zM913 338h1v203h-1zM914 342h1v199h-1zM915 344h1v199h-1zM916 348h1v197h-1zM917 355h1v196h-1zM918 378h1v173h-1zM919 393h1v158h-1zM920 394h1v163h-1zM921 456h1v100h-1zM922 455h2v100h-2zM924 456h1v99h-1zM925 394h1v161h-1zM926 394h1v160h-1zM927 393h1v160h-1zM928 435h1v118h-1zM929 455h2v100h-2zM931 395h1v160h-1zM932 395h1v161h-1zM933 394h1v163h-1zM934 394h1v162h-1zM935 455h1v102h-1zM936 400h2v157h-2zM938 400h1v161h-1zM939 400h1v160h-1zM940 435h1v125h-1zM941 435h1v122h-1zM942 359h1v188h-1zM943 352h1v191h-1zM944 349h1v191h-1zM945 345h1v195h-1zM946 342h1v197h-1zM947 340h1v198h-1zM948 339h1v197h-1zM949 338h1v198h-1zM950 338h1v200h-1zM951 339h1v201h-1zM952 342h1v200h-1zM953 346h1v197h-1zM954 349h1v196h-1zM955 352h1v195h-1zM956 364h1v184h-1zM957 374h1v183h-1zM958 381h1v176h-1zM959 385h1v171h-1zM960 388h2v168h-2zM962 458h1v99h-1zM963 458h4v102h-4zM967 404h2v156h-2zM969 402h1v158h-1zM970 402h3v155h-3zM973 402h1v156h-1zM974 401h1v157h-1zM975 400h1v156h-1zM976 370h1v186h-1zM977 349h1v205h-1zM978 338h1v214h-1zM979 330h1v216h-1zM980 324h1v206h-1zM981 319h1v209h-1zM982 318h1v123h-1zM983 318h2v124h-2zM985 320h1v124h-1zM986 322h1v210h-1zM987 330h1v205h-1zM988 338h1v200h-1zM989 348h1v192h-1zM990 358h1v187h-1zM991 369h1v177h-1zM992 381h1v166h-1zM993 392h1v165h-1zM994 392h1v166h-1zM995 392h1v164h-1zM996 392h1v165h-1zM997 394h1v161h-1zM998 395h1v161h-1zM999 398h1v161h-1zM1000 400h1v160h-1zM1001 402h2v158h-2zM1003 402h3v159h-3zM1006 402h1v154h-1zM1007 468h1v88h-1zM1008 459h1v97h-1zM1009 451h1v104h-1zM1010 442h1v115h-1zM1011 341h1v207h-1zM1012 332h1v213h-1zM1013 328h1v209h-1zM1014 326h1v206h-1zM1015 324h1v204h-1zM1016 324h1v115h-1zM1017 324h1v117h-1zM1018 325h1v120h-1zM1019 329h1v203h-1zM1020 339h1v196h-1zM1021 350h1v186h-1zM1022 352h1v188h-1zM1023 355h1v187h-1zM1024 356h1v189h-1zM1025 358h1v188h-1zM1026 378h1v166h-1zM1027 443h1v107h-1zM1028 448h1v102h-1zM1029 452h1v98h-1zM1030 458h1v96h-1zM1031 435h1v119h-1zM1032 402h1v154h-1zM1033 396h1v160h-1zM1034 391h1v165h-1zM1035 388h1v164h-1zM1036 386h1v167h-1zM1037 387h1v166h-1zM1038 387h1v169h-1zM1039 396h1v161h-1zM1040 465h1v92h-1zM1041 464h1v95h-1zM1042 464h1v94h-1zM1043 462h1v96h-1zM1044 457h1v101h-1zM1045 452h1v106h-1zM1046 448h1v109h-1zM1047 435h1v121h-1zM1048 371h1v185h-1zM1049 362h1v193h-1zM1050 355h1v190h-1zM1051 350h1v191h-1zM1052 349h1v188h-1zM1053 348h1v189h-1zM1054 347h1v191h-1zM1055 347h1v193h-1zM1056 347h1v196h-1zM1057 349h1v197h-1zM1058 351h1v198h-1zM1059 360h1v189h-1zM1060 373h1v177h-1zM1061 386h1v164h-1zM1062 398h2v153h-2zM1064 398h1v157h-1zM1065 399h2v156h-2zM1067 399h1v158h-1zM1068 400h4v161h-4zM1072 462h2v101h-2zM1074 407h1v157h-1zM1075 406h2v156h-2zM1077 408h1v154h-1zM1078 416h1v146h-1zM1079 452h1v103h-1zM1080 448h1v104h-1zM1081 439h1v109h-1zM1082 395h1v148h-1zM1083 352h1v187h-1zM1084 348h1v189h-1zM1085 344h1v192h-1zM1086 341h1v196h-1zM1087 339h1v200h-1zM1088 338h1v204h-1zM1089 338h1v206h-1zM1090 338h1v208h-1zM1091 371h1v177h-1zM1092 385h1v165h-1zM1093 394h1v158h-1zM1094 394h1v167h-1zM1095 395h1v168h-1zM1096 394h1v170h-1zM1097 395h1v169h-1zM1098 395h1v167h-1zM1099 460h1v102h-1zM1100 460h1v101h-1zM1101 408h2v154h-2zM1103 408h1v155h-1zM1104 408h1v156h-1zM1105 408h2v157h-2zM1107 409h1v159h-1zM1108 410h1v158h-1zM1109 410h1v155h-1zM1110 474h1v91h-1zM1111 470h1v94h-1zM1112 463h1v101h-1zM1113 455h1v111h-1zM1114 445h1v121h-1zM1115 361h1v191h-1zM1116 352h1v194h-1zM1117 345h1v194h-1zM1118 343h1v195h-1zM1119 341h3v195h-3zM1122 341h1v194h-1zM1123 342h1v194h-1zM1124 344h1v193h-1zM1125 346h1v198h-1zM1126 350h1v201h-1zM1127 355h1v197h-1zM1128 362h1v190h-1zM1129 367h1v185h-1zM1130 370h1v181h-1zM1131 450h1v107h-1zM1132 452h1v109h-1zM1133 454h1v107h-1zM1134 456h1v100h-1zM1135 458h1v98h-1zM1136 397h1v160h-1zM1137 396h1v161h-1zM1138 396h1v163h-1zM1139 396h1v164h-1zM1140 396h1v165h-1zM1141 397h1v163h-1zM1142 398h1v163h-1zM1143 468h2v94h-2zM1145 470h1v94h-1zM1146 467h1v98h-1zM1147 460h1v105h-1zM1148 452h1v114h-1zM1149 358h1v208h-1zM1150 350h1v195h-1zM1151 339h1v204h-1zM1152 333h1v162h-1zM1153 331h1v116h-1zM1154 330h1v116h-1zM1155 330h1v118h-1zM1156 330h1v215h-1zM1157 334h1v216h-1zM1158 342h1v209h-1zM1159 352h1v200h-1zM1160 360h1v194h-1zM1161 360h2v196h-2zM1163 366h1v191h-1zM1164 378h1v179h-1zM1165 387h1v170h-1zM1166 388h1v172h-1zM1167 389h1v174h-1zM1168 391h1v175h-1zM1169 392h1v174h-1zM1170 393h1v173h-1zM1171 394h1v169h-1zM1172 462h1v101h-1zM1173 463h1v100h-1zM1174 464h1v101h-1zM1175 464h1v102h-1zM1176 464h3v104h-3zM1179 465h1v103h-1zM1180 465h2v102h-2zM1182 355h1v200h-1zM1183 351h1v203h-1zM1184 348h1v203h-1zM1185 344h1v207h-1zM1186 341h1v207h-1zM1187 340h1v206h-1zM1188 338h1v111h-1zM1189 335h1v114h-1zM1190 334h1v116h-1zM1191 333h1v119h-1zM1192 333h1v125h-1zM1193 334h1v209h-1zM1194 338h1v206h-1zM1195 344h1v202h-1zM1196 352h1v207h-1zM1197 360h1v201h-1zM1198 366h1v196h-1zM1199 375h1v187h-1zM1200 393h1v170h-1zM1201 392h1v167h-1zM1202 392h1v168h-1zM1203 392h1v166h-1zM1204 392h1v167h-1zM1205 452h1v107h-1zM1206 452h1v106h-1zM1207 393h1v165h-1zM1208 392h1v168h-1zM1209 391h1v168h-1zM1210 392h1v167h-1zM1211 392h1v166h-1zM1212 396h1v162h-1zM1213 462h1v96h-1zM1214 462h1v97h-1zM1215 458h1v101h-1zM1216 449h1v107h-1zM1217 349h1v194h-1zM1218 348h1v194h-1zM1219 347h1v193h-1zM1220 347h1v191h-1zM1221 347h1v187h-1zM1222 350h1v179h-1zM1223 424h1v105h-1z"/>
<path fill="#00f" d="M197 381h1v164h-1zM198 381h1v165h-1zM199 380h1v167h-1zM200 380h1v168h-1zM201 381h2v167h-2zM203 385h1v164h-1zM204 389h1v160h-1zM205 388h4v162h-4zM209 388h1v163h-1zM210 388h2v164h-2zM212 395h2v158h-2zM214 394h1v159h-1zM215 394h1v158h-1zM216 376h1v174h-1zM217 356h1v193h-1zM218 352h1v196h-1zM219 349h1v199h-1zM220 347h1v195h-1zM221 346h1v101h-1zM222 345h1v102h-1zM223 344h1v102h-1zM224 343h2v103h-2zM226 343h1v191h-1zM227 343h1v193h-1zM228 344h1v193h-1zM229 347h1v191h-1zM230 352h1v188h-1zM231 358h1v183h-1zM232 362h1v181h-1zM233 366h1v178h-1zM234 370h1v175h-1zM235 374h1v172h-1zM236 380h1v167h-1zM237 383h1v165h-1zM238 383h1v166h-1zM239 384h1v165h-1zM240 385h1v164h-1zM241 388h1v162h-1zM242 388h1v159h-1zM243 388h1v157h-1zM244 388h1v153h-1zM245 389h1v153h-1zM246 391h1v153h-1zM247 392h1v152h-1zM248 393h1v151h-1zM249 394h1v150h-1zM250 381h1v163h-1zM251 378h1v165h-1zM252 375h1v166h-1zM253 355h1v184h-1zM254 350h1v185h-1zM255 346h1v185h-1zM256 342h1v108h-1zM257 338h1v112h-1zM258 334h1v194h-1zM259 331h2v197h-2zM261 331h1v115h-1zM262 331h1v116h-1zM263 334h1v116h-1zM264 341h1v195h-1zM265 349h1v188h-1zM266 355h1v183h-1zM267 362h1v176h-1zM268 367h1v171h-1zM269 371h1v169h-1zM270 376h1v164h-1zM271 384h1v156h-1zM272 383h1v157h-1zM273 382h4v158h-4zM277 386h1v156h-1zM278 388h2v154h-2zM280 389h1v153h-1zM281 390h3v152h-3zM284 387h1v153h-1zM285 380h1v159h-1zM286 365h1v173h-1zM287 352h1v184h-1zM288 341h1v194h-1zM289 340h1v194h-1zM290 338h1v196h-1zM291 336h1v105h-1zM292 335h1v103h-1zM293 334h1v103h-1zM294 332h2v105h-2zM296 332h1v108h-1zM297 334h1v110h-1zM298 339h1v112h-1zM299 345h1v191h-1zM300 351h1v187h-1zM301 358h1v181h-1zM302 363h1v177h-1zM303 369h1v172h-1zM304 374h1v167h-1zM305 376h1v166h-1zM306 379h1v163h-1zM307 380h1v162h-1zM308 381h1v161h-1zM309 382h1v160h-1zM310 382h2v159h-2zM312 383h1v159h-1zM313 384h1v158h-1zM314 385h2v157h-2zM316 386h1v156h-1zM317 386h1v157h-1zM318 389h1v154h-1zM319 386h1v157h-1zM320 379h1v164h-1zM321 364h1v178h-1zM322 361h1v180h-1zM323 358h1v182h-1zM324 354h1v185h-1zM325 350h1v188h-1zM326 347h1v189h-1zM327 346h1v186h-1zM328 345h1v187h-1zM329 345h1v186h-1zM330 345h1v105h-1zM331 346h1v103h-1zM332 352h1v100h-1zM333 356h1v182h-1zM334 356h1v185h-1zM335 358h1v185h-1zM336 364h1v180h-1zM337 370h1v174h-1zM338 375h1v170h-1zM339 379h1v166h-1zM340 382h1v163h-1zM341 386h1v160h-1zM342 390h1v158h-1zM343 396h1v153h-1zM344 395h1v154h-1zM345 395h1v155h-1zM346 393h1v157h-1zM347 391h1v159h-1zM348 390h3v160h-3zM351 392h1v158h-1zM352 398h1v154h-1zM353 392h1v160h-1zM354 382h1v170h-1zM355 367h1v183h-1zM356 360h1v188h-1zM357 359h1v183h-1zM358 358h1v181h-1zM359 352h1v184h-1zM360 341h1v194h-1zM361 340h1v193h-1zM362 339h1v193h-1zM363 338h1v194h-1zM364 338h1v193h-1zM365 339h1v195h-1zM366 339h1v197h-1zM367 346h1v192h-1zM368 352h1v188h-1zM369 356h1v186h-1zM370 357h1v188h-1zM371 368h1v179h-1zM372 381h1v167h-1zM373 388h1v161h-1zM374 390h1v160h-1zM375 392h1v158h-1zM376 396h1v154h-1zM377 402h3v148h-3zM380 401h1v149h-1zM381 468h2v82h-2zM383 400h1v150h-1zM384 400h1v151h-1zM385 400h3v152h-3zM388 399h1v153h-1zM389 389h1v163h-1zM390 378h1v172h-1zM391 377h1v170h-1zM392 373h1v172h-1zM393 366h1v176h-1zM394 361h1v177h-1zM395 359h1v176h-1zM396 358h3v176h-3zM399 358h1v177h-1zM400 359h1v186h-1zM401 360h1v186h-1zM402 362h1v185h-1zM403 364h1v183h-1zM404 372h1v176h-1zM405 381h1v168h-1zM406 384h1v165h-1zM407 383h1v166h-1zM408 381h1v169h-1zM409 381h1v166h-1zM410 380h1v166h-1zM411 380h2v167h-2zM413 380h1v168h-1zM414 382h1v167h-1zM415 388h1v162h-1zM416 398h1v152h-1zM417 403h2v148h-2zM419 403h1v149h-1zM420 466h1v86h-1zM421 460h1v92h-1zM422 454h1v98h-1zM423 448h1v103h-1zM424 442h1v109h-1zM425 376h1v174h-1zM426 376h1v173h-1zM427 375h1v170h-1zM428 360h1v183h-1zM429 359h1v184h-1zM430 358h3v184h-3zM433 359h1v184h-1zM434 359h1v185h-1zM435 361h1v184h-1zM436 363h1v183h-1zM437 366h1v182h-1zM438 369h1v179h-1zM439 373h1v175h-1zM440 378h1v171h-1zM441 382h1v167h-1zM442 383h2v165h-2zM444 386h1v161h-1zM445 388h2v159h-2zM447 389h1v157h-1zM448 389h1v158h-1zM449 458h2v90h-2zM451 458h1v91h-1zM452 392h2v158h-2zM454 391h3v159h-3zM457 390h1v160h-1zM458 388h1v161h-1zM459 384h1v165h-1zM460 372h1v176h-1zM461 352h1v193h-1zM462 350h1v192h-1zM463 349h1v193h-1zM464 350h2v192h-2zM466 353h1v189h-1zM467 358h1v185h-1zM468 365h1v178h-1zM469 367h1v176h-1zM470 369h2v174h-2zM472 370h1v175h-1zM473 372h1v176h-1zM474 377h1v173h-1zM475 379h1v170h-1zM476 380h2v168h-2zM478 381h1v166h-1zM479 382h1v164h-1zM480 384h1v162h-1zM481 386h1v160h-1zM482 388h1v158h-1zM483 387h1v158h-1zM484 386h1v159h-1zM485 385h1v159h-1zM486 385h1v156h-1zM487 384h1v155h-1zM488 384h1v156h-1zM489 386h1v154h-1zM490 391h1v150h-1zM491 388h1v154h-1zM492 385h1v157h-1zM493 360h1v181h-1zM494 347h1v193h-1zM495 345h1v193h-1zM496 344h1v191h-1zM497 343h1v187h-1zM498 343h2v114h-2zM500 345h1v183h-1zM501 346h1v182h-1zM502 348h1v182h-1zM503 349h1v181h-1zM504 352h1v179h-1zM505 356h1v181h-1zM506 360h1v183h-1zM507 366h1v178h-1zM508 394h1v150h-1zM509 388h1v156h-1zM510 382h1v162h-1zM511 387h1v157h-1zM512 391h3v153h-3zM515 390h1v154h-1zM516 393h1v147h-1zM517 393h2v149h-2zM519 394h1v149h-1zM520 395h1v149h-1zM521 396h2v149h-2zM523 397h2v148h-2zM525 398h1v148h-1zM526 398h1v147h-1zM527 379h1v165h-1zM528 354h1v190h-1zM529 347h1v193h-1zM530 346h1v192h-1zM531 344h1v191h-1zM532 344h1v101h-1zM533 343h1v101h-1zM534 342h1v102h-1zM535 343h1v99h-1zM536 344h1v97h-1zM537 352h1v92h-1zM538 353h2v179h-2zM540 354h1v178h-1zM541 358h1v178h-1zM542 363h1v175h-1zM543 370h1v169h-1zM544 378h1v162h-1zM545 390h1v151h-1zM546 398h1v144h-1zM547 398h1v145h-1zM548 398h1v146h-1zM549 398h2v147h-2zM551 398h1v148h-1zM552 399h1v147h-1zM553 401h1v145h-1zM554 402h2v144h-2zM556 401h1v145h-1zM557 400h3v146h-3zM560 471h1v75h-1zM561 442h1v103h-1zM562 377h1v165h-1zM563 366h1v173h-1zM564 363h1v175h-1zM565 360h1v176h-1zM566 358h1v177h-1zM567 357h1v176h-1zM568 356h1v98h-1zM569 354h1v100h-1zM570 355h1v109h-1zM571 355h1v183h-1zM572 356h1v184h-1zM573 359h1v181h-1zM574 374h2v166h-2zM576 375h1v167h-1zM577 379h1v165h-1zM578 388h1v157h-1zM579 388h1v158h-1zM580 389h1v158h-1zM581 390h1v157h-1zM582 393h1v155h-1zM583 395h1v152h-1zM584 394h1v153h-1zM585 393h2v153h-2zM587 394h2v153h-2zM589 395h1v152h-1zM590 395h2v153h-2zM592 397h1v151h-1zM593 402h1v148h-1zM594 401h1v149h-1zM595 400h1v151h-1zM596 399h2v152h-2zM598 380h1v171h-1zM599 379h1v171h-1zM600 378h2v164h-2zM602 377h1v165h-1zM603 376h1v168h-1zM604 377h1v169h-1zM605 377h1v170h-1zM606 382h1v166h-1zM607 389h1v159h-1zM608 398h1v151h-1zM609 399h1v153h-1zM610 399h2v157h-2zM612 398h2v158h-2zM614 397h1v159h-1zM615 397h1v152h-1zM616 396h1v153h-1zM617 399h1v150h-1zM618 402h1v148h-1zM619 401h1v149h-1zM620 399h2v153h-2zM622 399h1v154h-1zM623 401h1v152h-1zM624 405h1v148h-1zM625 405h2v147h-2zM627 449h1v102h-1zM628 471h1v80h-1zM629 392h1v159h-1zM630 391h1v160h-1zM631 385h1v165h-1zM632 374h1v176h-1zM633 370h1v180h-1zM634 366h1v180h-1zM635 364h1v179h-1zM636 361h1v180h-1zM637 362h1v177h-1zM638 362h1v176h-1zM639 362h1v175h-1zM640 364h2v172h-2zM642 365h1v172h-1zM643 365h1v174h-1zM644 365h1v177h-1zM645 369h1v176h-1zM646 375h1v172h-1zM647 382h1v166h-1zM648 385h1v164h-1zM649 386h2v163h-2zM651 390h1v159h-1zM652 391h1v158h-1zM653 390h1v158h-1zM654 390h1v156h-1zM655 394h1v154h-1zM656 398h2v151h-2zM658 398h1v152h-1zM659 399h3v151h-3zM662 400h1v150h-1zM663 468h1v82h-1zM664 468h1v81h-1zM665 420h1v129h-1zM666 358h1v189h-1zM667 355h1v191h-1zM668 352h1v190h-1zM669 350h1v188h-1zM670 348h1v100h-1zM671 345h1v100h-1zM672 344h1v100h-1zM673 342h1v100h-1zM674 342h2v101h-2zM676 342h1v103h-1zM677 344h1v194h-1zM678 346h1v194h-1zM679 350h1v192h-1zM680 357h1v187h-1zM681 365h1v181h-1zM682 375h1v172h-1zM683 382h1v166h-1zM684 388h1v160h-1zM685 396h1v152h-1zM686 460h3v88h-3zM689 462h1v86h-1zM690 463h1v86h-1zM691 464h1v85h-1zM692 466h1v83h-1zM693 467h1v82h-1zM694 468h2v82h-2zM696 469h2v82h-2zM698 469h1v83h-1zM699 459h1v93h-1zM700 440h1v112h-1zM701 370h1v180h-1zM702 338h1v213h-1zM703 333h1v218h-1zM704 328h1v223h-1zM705 326h1v225h-1zM706 324h2v227h-2zM708 324h1v119h-1zM709 324h1v124h-1zM710 324h1v128h-1zM711 331h1v212h-1zM712 340h1v204h-1zM713 352h1v193h-1zM714 358h1v188h-1zM715 362h1v184h-1zM716 366h1v180h-1zM717 371h1v176h-1zM718 375h1v172h-1zM719 380h1v168h-1zM720 385h1v165h-1zM721 388h1v163h-1zM722 391h1v161h-1zM723 392h1v160h-1zM724 392h1v159h-1zM725 392h1v158h-1zM726 392h1v150h-1zM727 392h1v151h-1zM728 396h1v147h-1zM729 465h2v78h-2zM731 425h1v119h-1zM732 424h1v120h-1zM733 424h1v119h-1zM734 395h1v148h-1zM735 368h1v174h-1zM736 350h1v191h-1zM737 339h1v197h-1zM738 337h1v150h-1zM739 335h1v107h-1zM740 334h1v106h-1zM741 334h1v104h-1zM742 333h1v104h-1zM743 333h1v103h-1zM744 335h1v105h-1zM745 338h1v150h-1zM746 341h1v192h-1zM747 345h1v190h-1zM748 352h1v184h-1zM749 363h1v175h-1zM750 380h1v159h-1zM751 456h1v84h-1zM752 456h1v85h-1zM753 456h1v86h-1zM754 394h1v149h-1zM755 393h1v150h-1zM756 393h1v151h-1zM757 392h1v152h-1zM758 394h1v150h-1zM759 396h1v149h-1zM760 465h2v80h-2zM762 396h2v149h-2zM764 395h2v150h-2zM766 395h1v149h-1zM767 390h1v154h-1zM768 380h1v163h-1zM769 371h1v170h-1zM770 357h1v181h-1zM771 347h1v188h-1zM772 345h1v189h-1zM773 345h2v188h-2zM775 350h1v184h-1zM776 360h1v174h-1zM777 361h1v174h-1zM778 362h1v175h-1zM779 367h1v172h-1zM780 375h1v166h-1zM781 458h1v84h-1zM782 458h2v85h-2zM784 395h1v149h-1zM785 394h4v150h-4zM789 397h1v147h-1zM790 462h1v81h-1zM791 462h2v80h-2zM793 400h1v142h-1zM794 399h1v143h-1zM795 399h2v144h-2zM797 399h1v145h-1zM798 401h1v143h-1zM799 471h1v73h-1zM800 471h3v74h-3zM803 382h1v163h-1zM804 381h1v163h-1zM805 377h1v167h-1zM806 370h1v173h-1zM807 369h1v174h-1zM808 368h1v174h-1zM809 368h1v177h-1zM810 369h1v178h-1zM811 370h1v178h-1zM812 376h1v172h-1zM813 379h1v170h-1zM814 380h1v170h-1zM815 466h1v84h-1zM816 466h1v85h-1zM817 400h1v151h-1zM818 400h2v152h-2zM820 399h2v152h-2zM822 399h1v151h-1zM823 399h3v152h-3zM826 401h1v150h-1zM827 403h2v148h-2zM829 403h1v147h-1zM830 402h1v149h-1zM831 402h2v150h-2zM833 437h1v115h-1zM834 472h2v80h-2zM836 402h1v150h-1zM837 402h1v148h-1zM838 401h1v148h-1zM839 404h1v142h-1zM840 454h1v90h-1zM841 366h1v175h-1zM842 364h1v175h-1zM843 361h1v177h-1zM844 359h1v179h-1zM845 358h1v180h-1zM846 358h1v182h-1zM847 360h1v182h-1zM848 365h1v179h-1zM849 375h1v171h-1zM850 385h1v162h-1zM851 390h1v158h-1zM852 389h1v161h-1zM853 390h2v161h-2zM855 402h1v150h-1zM856 403h1v149h-1zM857 403h1v150h-1zM858 403h1v151h-1zM859 404h1v150h-1zM860 474h1v80h-1zM861 404h1v150h-1zM862 403h2v151h-2zM864 403h2v150h-2zM866 403h1v149h-1zM867 402h2v150h-2zM869 401h1v150h-1zM870 400h1v150h-1zM871 399h1v150h-1zM872 392h1v156h-1zM873 377h1v169h-1zM874 364h1v180h-1zM875 361h1v181h-1zM876 361h2v179h-2zM878 362h1v178h-1zM879 366h1v178h-1zM880 369h1v179h-1zM881 371h1v178h-1zM882 388h2v162h-2zM884 389h1v161h-1zM885 390h1v160h-1zM886 392h1v158h-1zM887 393h2v158h-2zM889 393h2v159h-2zM891 394h1v159h-1zM892 394h1v160h-1zM893 395h1v159h-1zM894 465h1v90h-1zM895 466h1v89h-1zM896 467h1v89h-1zM897 469h1v87h-1zM898 470h1v86h-1zM899 471h2v85h-2zM901 472h1v84h-1zM902 473h1v82h-1zM903 474h1v81h-1zM904 401h1v153h-1zM905 400h1v154h-1zM906 395h1v159h-1zM907 384h1v169h-1zM908 365h1v187h-1zM909 354h1v195h-1zM910 351h1v194h-1zM911 352h1v190h-1zM912 352h1v188h-1zM913 352h1v189h-1zM914 354h1v187h-1zM915 356h1v187h-1zM916 358h1v187h-1zM917 362h1v189h-1zM918 380h1v171h-1zM919 395h1v156h-1zM920 396h1v155h-1zM921 464h1v86h-1zM922 465h2v85h-2zM924 466h1v84h-1zM925 396h2v154h-2zM927 395h1v155h-1zM928 443h1v107h-1zM929 468h2v82h-2zM931 397h1v153h-1zM932 397h1v154h-1zM933 396h2v156h-2zM935 469h1v84h-1zM936 402h1v151h-1zM937 402h2v152h-2zM939 402h1v151h-1zM940 452h1v101h-1zM941 452h1v99h-1zM942 364h1v183h-1zM943 360h1v183h-1zM944 356h1v184h-1zM945 352h1v186h-1zM946 351h1v186h-1zM947 349h1v187h-1zM948 348h2v188h-2zM950 348h1v190h-1zM951 349h1v191h-1zM952 351h1v191h-1zM953 355h1v188h-1zM954 356h1v189h-1zM955 358h1v189h-1zM956 366h1v182h-1zM957 376h1v173h-1zM958 383h1v166h-1zM959 387h1v162h-1zM960 390h2v160h-2zM962 465h3v85h-3zM965 468h1v82h-1zM966 470h1v80h-1zM967 406h2v144h-2zM969 405h1v144h-1zM970 406h2v143h-2zM972 407h1v142h-1zM973 406h1v143h-1zM974 404h1v145h-1zM975 402h1v145h-1zM976 376h1v170h-1zM977 360h1v184h-1zM978 355h1v187h-1zM979 346h1v192h-1zM980 340h1v190h-1zM981 338h1v190h-1zM982 336h1v105h-1zM983 336h2v106h-2zM985 338h1v106h-1zM986 340h1v192h-1zM987 343h1v192h-1zM988 348h1v190h-1zM989 355h1v185h-1zM990 362h1v180h-1zM991 371h1v173h-1zM992 383h1v162h-1zM993 396h1v149h-1zM994 396h1v150h-1zM995 396h2v151h-2zM997 397h1v150h-1zM998 398h1v150h-1zM999 400h1v148h-1zM1000 402h1v146h-1zM1001 404h3v145h-3zM1004 404h3v146h-3zM1007 475h1v75h-1zM1008 465h1v85h-1zM1009 455h1v94h-1zM1010 445h1v103h-1zM1011 358h1v188h-1zM1012 351h1v191h-1zM1013 344h1v193h-1zM1014 339h1v193h-1zM1015 338h1v190h-1zM1016 337h1v102h-1zM1017 338h1v103h-1zM1018 338h1v107h-1zM1019 344h1v188h-1zM1020 350h1v185h-1zM1021 355h1v181h-1zM1022 361h1v177h-1zM1023 366h1v174h-1zM1024 368h1v174h-1zM1025 369h1v174h-1zM1026 380h1v164h-1zM1027 450h1v95h-1zM1028 457h1v88h-1zM1029 462h1v83h-1zM1030 465h1v80h-1zM1031 441h1v104h-1zM1032 404h1v142h-1zM1033 400h1v146h-1zM1034 397h1v149h-1zM1035 396h2v151h-2zM1037 396h2v152h-2zM1039 402h1v146h-1zM1040 471h1v78h-1zM1041 470h1v79h-1zM1042 468h1v80h-1zM1043 466h1v82h-1zM1044 464h1v84h-1zM1045 460h1v88h-1zM1046 455h1v92h-1zM1047 440h1v106h-1zM1048 375h1v171h-1zM1049 366h1v179h-1zM1050 362h1v183h-1zM1051 360h1v181h-1zM1052 359h1v178h-1zM1053 358h1v179h-1zM1054 358h1v180h-1zM1055 358h1v182h-1zM1056 358h1v185h-1zM1057 359h1v187h-1zM1058 360h1v189h-1zM1059 366h1v183h-1zM1060 377h1v173h-1zM1061 388h1v162h-1zM1062 400h2v151h-2zM1064 400h1v152h-1zM1065 401h1v151h-1zM1066 401h1v152h-1zM1067 401h1v153h-1zM1068 402h2v152h-2zM1070 402h2v153h-2zM1072 475h1v80h-1zM1073 475h1v81h-1zM1074 409h1v147h-1zM1075 408h1v148h-1zM1076 408h1v149h-1zM1077 410h1v147h-1zM1078 420h1v137h-1zM1079 460h1v95h-1zM1080 455h1v97h-1zM1081 445h1v103h-1zM1082 400h1v143h-1zM1083 358h1v181h-1zM1084 354h1v183h-1zM1085 352h1v184h-1zM1086 351h1v186h-1zM1087 350h1v189h-1zM1088 350h1v192h-1zM1089 350h1v194h-1zM1090 350h1v196h-1zM1091 374h1v174h-1zM1092 387h1v163h-1zM1093 398h1v154h-1zM1094 397h1v156h-1zM1095 397h1v157h-1zM1096 396h1v158h-1zM1097 397h2v158h-2zM1099 472h2v84h-2zM1101 410h3v147h-3zM1104 410h3v148h-3zM1107 411h1v147h-1zM1108 412h2v147h-2zM1110 480h1v78h-1zM1111 475h1v83h-1zM1112 468h1v89h-1zM1113 460h1v97h-1zM1114 450h1v106h-1zM1115 369h1v181h-1zM1116 362h1v183h-1zM1117 355h1v184h-1zM1118 354h1v184h-1zM1119 352h3v184h-3zM1122 353h1v182h-1zM1123 354h1v182h-1zM1124 355h1v182h-1zM1125 357h1v187h-1zM1126 359h1v192h-1zM1127 362h1v190h-1zM1128 367h1v185h-1zM1129 370h1v182h-1zM1130 372h1v179h-1zM1131 455h1v96h-1zM1132 456h1v95h-1zM1133 457h1v94h-1zM1134 459h1v91h-1zM1135 460h1v91h-1zM1136 399h1v152h-1zM1137 398h1v153h-1zM1138 398h1v154h-1zM1139 398h1v155h-1zM1140 398h1v156h-1zM1141 399h1v156h-1zM1142 400h1v156h-1zM1143 475h1v81h-1zM1144 476h1v81h-1zM1145 477h1v81h-1zM1146 473h1v85h-1zM1147 465h1v93h-1zM1148 455h1v103h-1zM1149 364h1v194h-1zM1150 360h1v185h-1zM1151 355h1v188h-1zM1152 352h1v143h-1zM1153 351h1v96h-1zM1154 350h1v96h-1zM1155 350h1v98h-1zM1156 350h1v195h-1zM1157 352h1v196h-1zM1158 355h1v193h-1zM1159 360h1v189h-1zM1160 362h1v188h-1zM1161 363h1v187h-1zM1162 363h1v189h-1zM1163 369h1v183h-1zM1164 380h1v173h-1zM1165 389h1v165h-1zM1166 390h1v164h-1zM1167 391h1v164h-1zM1168 393h1v162h-1zM1169 394h1v161h-1zM1170 395h1v160h-1zM1171 396h1v159h-1zM1172 466h1v89h-1zM1173 469h1v87h-1zM1174 471h4v85h-4zM1178 472h3v84h-3zM1181 471h1v85h-1zM1182 366h1v189h-1zM1183 364h1v190h-1zM1184 362h1v189h-1zM1185 360h1v189h-1zM1186 358h1v188h-1zM1187 357h1v187h-1zM1188 349h1v100h-1zM1189 347h1v102h-1zM1190 346h1v104h-1zM1191 346h1v106h-1zM1192 346h1v112h-1zM1193 348h1v195h-1zM1194 350h1v194h-1zM1195 353h1v193h-1zM1196 358h1v190h-1zM1197 362h1v187h-1zM1198 368h1v182h-1zM1199 378h1v173h-1zM1200 395h1v156h-1zM1201 394h4v157h-4zM1205 464h2v86h-2zM1207 397h1v152h-1zM1208 395h3v153h-3zM1211 396h1v151h-1zM1212 400h1v147h-1zM1213 470h2v77h-2zM1215 463h1v85h-1zM1216 453h1v92h-1zM1217 360h1v183h-1zM1218 359h1v183h-1zM1219 358h1v182h-1zM1220 358h1v180h-1zM1221 358h1v176h-1zM1222 360h1v169h-1zM1223 442h1v87h-1z"/>
<rect x="462" y="525" width="4" height="147" fill="#00f"/>
<rect x="475" y="525" width="4" height="298" fill="#00f"/>
<rect x="488" y="525" width="4" height="299" fill="#00f"/>
<rect x="488" y="823" width="4" height="11" fill="#000"/>
<rect x="563" y="525" width="4" height="84" fill="#00f"/>
<rect x="702" y="525" width="6" height="289" fill="#00f"/>
<rect x="702" y="814" width="4" height="37" fill="#00f"/>
<rect x="706" y="812" width="2" height="6" fill="#000"/>
<rect x="804" y="525" width="4" height="81" fill="#00f"/>
<rect x="963" y="525" width="4" height="42" fill="#00f"/>
<rect x="969" y="525" width="5" height="81" fill="#00f"/>
<rect x="1127" y="525" width="4" height="313" fill="#00f"/>
<rect x="1127" y="837" width="4" height="3" fill="#000"/>
</g>
<g id="axes" shape-rendering="crispEdges" fill="#000">
<rect x="156" y="79" width="1108" height="2"/><rect x="156" y="878" width="1108" height="2"/>
<rect x="156" y="79" width="2" height="801"/><rect x="1262" y="79" width="2" height="801"/>
<rect x="242" y="879" width="2" height="20"/>
<rect x="483" y="879" width="2" height="20"/>
<rect x="725" y="879" width="2" height="20"/>
<rect x="966" y="879" width="2" height="20"/>
<rect x="1207" y="879" width="2" height="20"/>
<rect x="138" y="848" width="19" height="2"/>
<rect x="138" y="602" width="19" height="2"/>
<rect x="138" y="355" width="19" height="2"/>
<rect x="138" y="109" width="19" height="2"/>
</g>
<text x="242.2" y="949" font-size="32" text-anchor="middle">dic. 11</text>
<text x="483.2" y="949" font-size="32" text-anchor="middle">dic. 18</text>
<text x="725.2" y="949" font-size="32" text-anchor="middle">dic. 25</text>
<text x="966.2" y="949" font-size="32" text-anchor="middle">ene. 01</text>
<text x="1207.2" y="949" font-size="32" text-anchor="middle">ene. 08</text>
<text  transform="translate(111.3,849.8) rotate(-90)" font-size="32" text-anchor="middle">0</text>
<text  transform="translate(111.3,603.3) rotate(-90)" font-size="32" text-anchor="middle">50</text>
<text  transform="translate(111.3,356.7) rotate(-90)" font-size="32" text-anchor="middle">100</text>
<text  transform="translate(111.3,110.2) rotate(-90)" font-size="32" text-anchor="middle">150</text>
<text transform="translate(34,579.5) rotate(-90)" font-size="32" textLength="200.5" lengthAdjust="spacing">Corrientes (A)</text>
<text transform="translate(165,53) scale(1,1.04)" font-size="32" font-weight="bold" textLength="1090.5" lengthAdjust="spacing" xml:space="preserve" style="white-space:pre">Corriente RMS Mín. Desde  2023-12-09 16:25:00  al  2024-01-08 09:45:00</text>
<g id="legend" shape-rendering="crispEdges">
<rect x="332" y="849" width="45" height="2" fill="#000"/>
<rect x="595" y="849" width="44" height="2" fill="#f00"/>
<rect x="857" y="849" width="44" height="2" fill="#00f"/>
</g>
<text x="397" y="860" font-size="24">Current Mín (L1)</text>
<text x="660" y="860" font-size="24">Current Mín (L2)</text>
<text x="922" y="860" font-size="24">Current Mín (L3)</text>
<g id="grid" shape-rendering="crispEdges" fill="#bebebe">
<rect x="342" y="80" width="1" height="799"/>
<rect x="541" y="80" width="1" height="799"/>
<rect x="741" y="80" width="1" height="799"/>
<rect x="940" y="80" width="1" height="799"/>
<rect x="1139" y="80" width="1" height="799"/>
<rect x="157" y="849" width="1106" height="1"/>
<rect x="157" y="603" width="1106" height="1"/>
<rect x="157" y="356" width="1106" height="1"/>
<rect x="157" y="110" width="1106" height="1"/>
</g>
</svg></body></html>
